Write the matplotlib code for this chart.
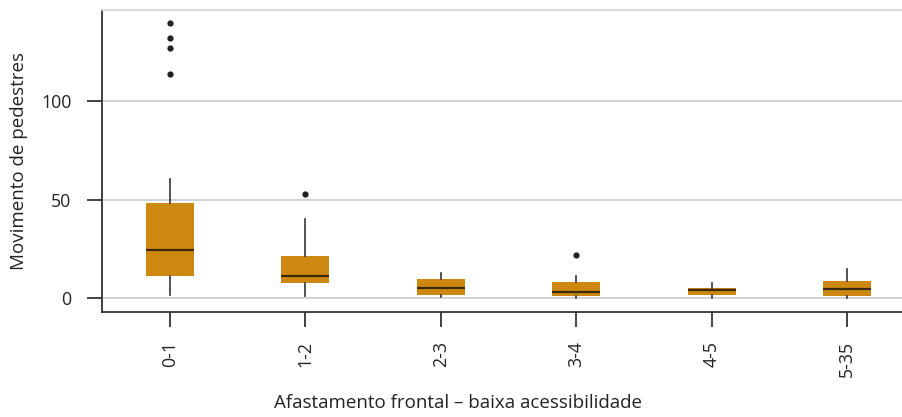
import matplotlib
matplotlib.use("Agg")
import matplotlib.pyplot as plt

plt.rcParams['font.family'] = ['Open Sans', 'DejaVu Sans']

# distance classes (m) and box statistics of pedestrian counts
classes = ["0-1", "1-2", "2-3", "3-4", "4-5", "5-35"]
whislo = [1.9, 1.2, 0.5, 0.2, 0.3, 0.2]
q1 = [11.3, 7.8, 1.7, 1.2, 1.8, 1.3]
med = [24.5, 11.5, 5.2, 3.4, 4.0, 4.6]
q3 = [48.3, 21.3, 9.6, 8.1, 5.1, 8.7]
whishi = [60.3, 40.4, 13.0, 11.5, 7.9, 14.8]
fliers = [[114.0, 127.1, 131.9, 139.7], [52.7], [], [21.9], [], []]

stats = []
for i, name in enumerate(classes):
    stats.append({
        'label': name, 'whislo': whislo[i], 'q1': q1[i], 'med': med[i],
        'q3': q3[i], 'whishi': whishi[i], 'fliers': fliers[i],
    })

fig = plt.figure(figsize=(9.02, 4.17), dpi=100)
# axes runs a bit past the right edge of the figure
ax = fig.add_axes([102 / 902, 1 - 312 / 417, 813 / 902, 302 / 417])

ax.set_ylim(-6.9, 146.2)
ax.set_xlim(0.5, 6.5)
ax.set_yticks([0, 50, 100])
ax.grid(axis='y', color='#cfcfcf', linewidth=1.3, zorder=0)
ax.set_axisbelow(True)

ax.bxp(stats, positions=range(1, 7), widths=0.355, patch_artist=True,
       showcaps=False,
       boxprops=dict(facecolor='#cd8812', edgecolor='none', linewidth=0),
       medianprops=dict(color='#3b2a0e', linewidth=1.6),
       whiskerprops=dict(color='#333333', linewidth=1.2),
       flierprops=dict(marker='o', markersize=4.5, markerfacecolor='#222222',
                       markeredgecolor='none'))

ax.set_xticks(range(1, 7))
ax.set_xticklabels(classes, rotation=90)

ax.spines['right'].set_visible(False)
ax.spines['top'].set_color('#d8d8d8')
ax.spines['top'].set_linewidth(1.3)
for side in ('left', 'bottom'):
    ax.spines[side].set_color('#333333')
    ax.spines[side].set_linewidth(1.3)

ax.tick_params(axis='both', direction='out', length=11, width=1.3,
               color='#333333', labelsize=12.8, labelcolor='#222222')
ax.tick_params(axis='y', pad=11)
ax.tick_params(axis='x', pad=10)

ax.set_ylabel("Movimento de pedestres", fontsize=13.5, color='#222222')
ax.yaxis.set_label_coords(-(102 - 28) / 813, 0.5)
ax.set_xlabel("Afastamento frontal – baixa acessibilidade", fontsize=13.5,
              color='#222222')
ax.xaxis.set_label_coords((457.5 - 102) / 813, -(394 - 312) / 302)

fig.savefig("out.png", dpi=100)
